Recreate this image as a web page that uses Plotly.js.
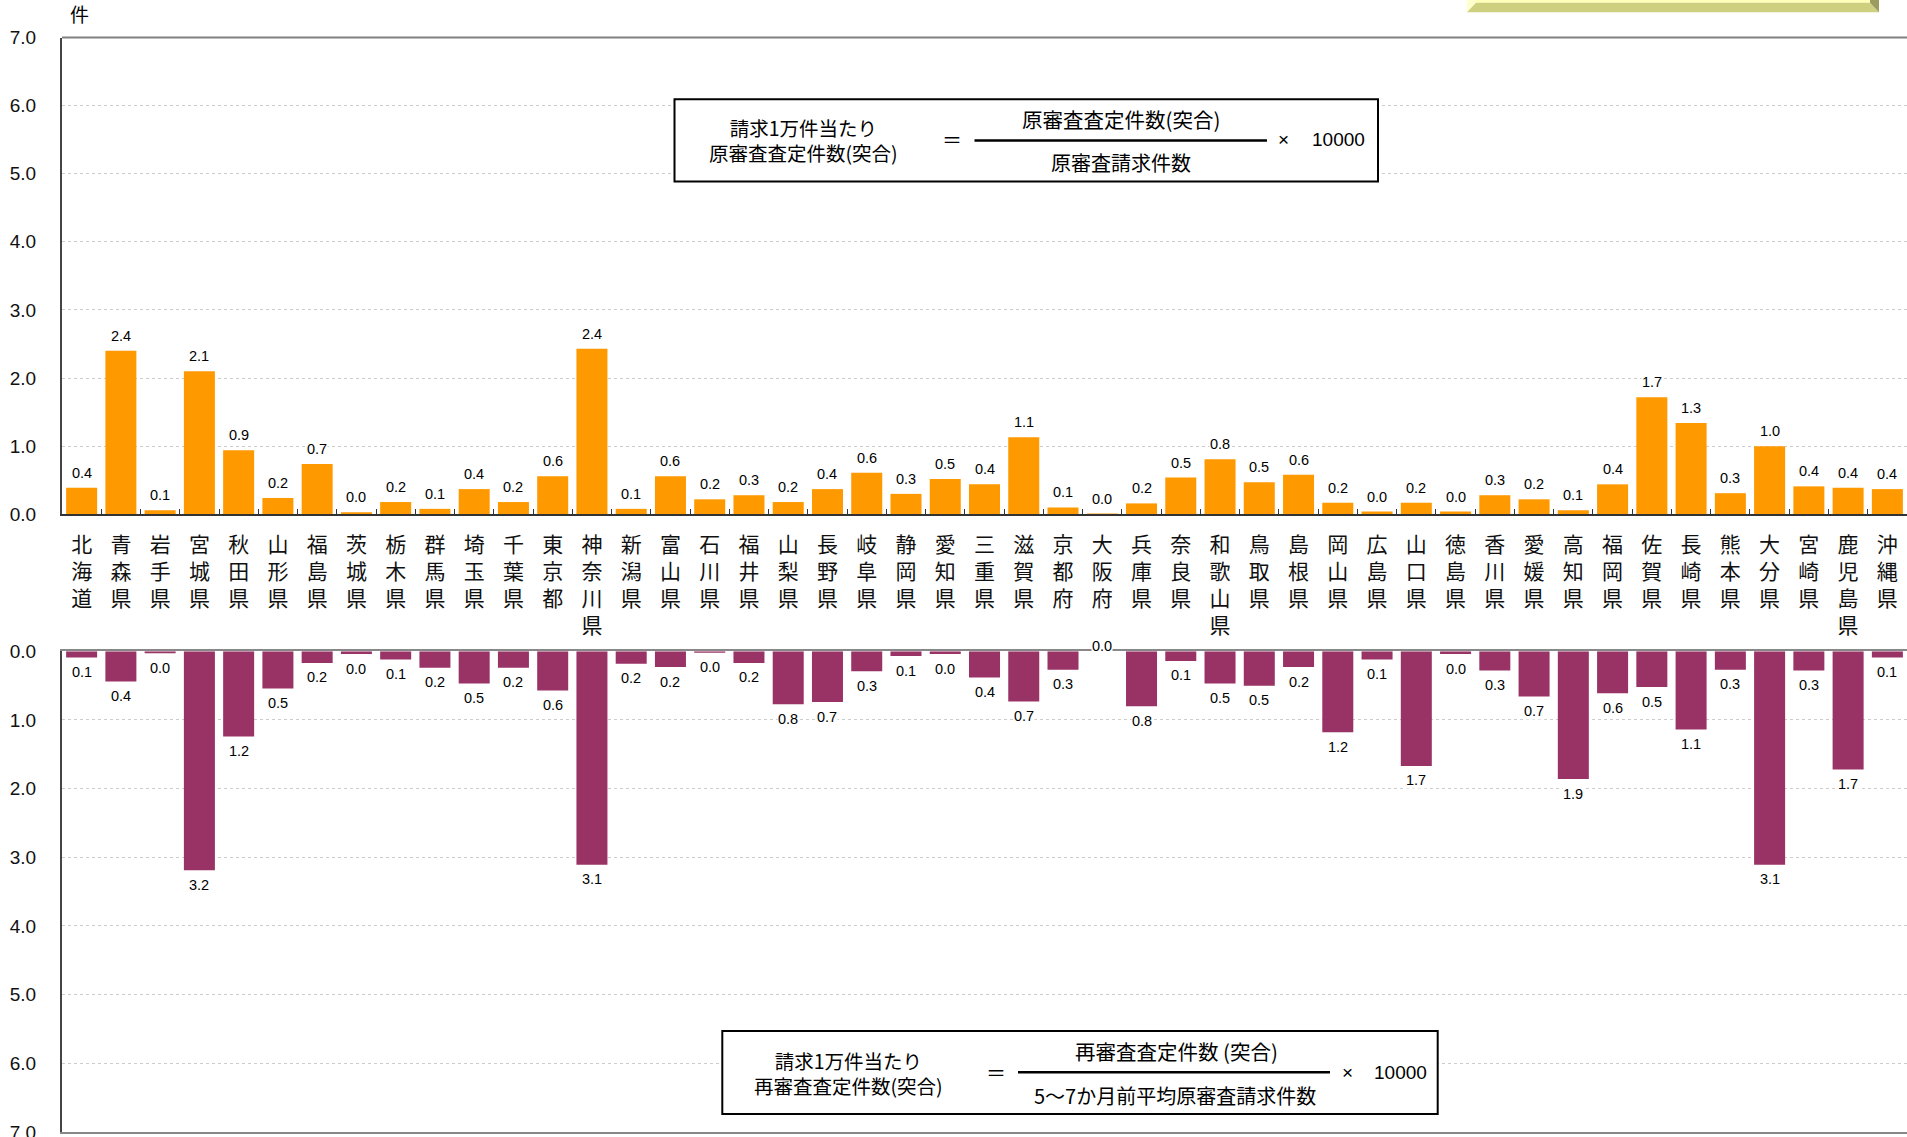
<!DOCTYPE html>
<html>
<head>
<meta charset="utf-8">
<script src="https://cdn.plot.ly/plotly-3.0.1.min.js"></script>
<style>
html,body{margin:0;padding:0;overflow:hidden;background:#fff;}
#chart{width:1907px;height:1137px;}
</style>
</head>
<body>
<div id="chart"></div>
<script>
// ---- data ----
const prefectures = ["北海道","青森県","岩手県","宮城県","秋田県","山形県","福島県","茨城県","栃木県","群馬県",
  "埼玉県","千葉県","東京都","神奈川県","新潟県","富山県","石川県","福井県","山梨県","長野県",
  "岐阜県","静岡県","愛知県","三重県","滋賀県","京都府","大阪府","兵庫県","奈良県","和歌山県",
  "鳥取県","島根県","岡山県","広島県","山口県","徳島県","香川県","愛媛県","高知県","福岡県",
  "佐賀県","長崎県","熊本県","大分県","宮崎県","鹿児島県","沖縄県"];

// 請求1万件当たり原審査査定件数(突合)
const originalPerTenThousand = [0.39,2.40,0.06,2.10,0.94,0.24,0.74,0.03,0.18,0.08,
  0.37,0.18,0.56,2.43,0.08,0.56,0.22,0.28,0.18,0.37,
  0.61,0.30,0.52,0.44,1.13,0.10,0.01,0.16,0.54,0.81,
  0.47,0.58,0.17,0.04,0.17,0.04,0.28,0.22,0.06,0.44,
  1.72,1.34,0.31,1.00,0.41,0.39,0.37];

// 請求1万件当たり再審査査定件数(突合)
const reviewPerTenThousand = [0.09,0.44,0.03,3.19,1.24,0.54,0.17,0.04,0.12,0.24,
  0.47,0.24,0.57,3.11,0.18,0.23,0.02,0.17,0.77,0.74,
  0.29,0.07,0.04,0.38,0.73,0.27,0.00,0.80,0.14,0.47,
  0.50,0.23,1.18,0.12,1.67,0.04,0.28,0.66,1.86,0.61,
  0.52,1.14,0.27,3.11,0.28,1.72,0.09];

const yTickValues = [0,1,2,3,4,5,6,7];
const unitLabel = "件";
const formulaTop = {left:["請求1万件当たり","原審査査定件数(突合)"], num:"原審査査定件数(突合)", den:"原審査請求件数", factor:"10000"};
const formulaBottom = {left:["請求1万件当たり","再審査査定件数(突合)"], num:"再審査査定件数 (突合)", den:"5～7か月前平均原審査請求件数", factor:"10000"};

// ---- layout helpers (pixel -> paper) ----
const W = 1907, H = 1137, ML = 62, MR = 0;
const px = x => (x - ML) / (W - ML - MR);
const py = y => 1 - y / H;

const CJK = '"Noto Sans CJK JP", "Noto Sans", sans-serif';
const LAT = '"Liberation Sans", Arial, sans-serif';

const verticalLabels = prefectures.map(p => p.split('').join('<br>'));

const traces = [
  {type:'bar', x:prefectures, y:originalPerTenThousand, xaxis:'x', yaxis:'y',
   marker:{color:'#FF9900'}, hoverinfo:'skip'},
  {type:'bar', x:prefectures, y:reviewPerTenThousand, xaxis:'x2', yaxis:'y2',
   marker:{color:'#993366'}, hoverinfo:'skip'}
];

const annotations = [];
const labelFont = {family:LAT, size:14.5, color:'#000'};
prefectures.forEach((p,i)=>{
  const v = originalPerTenThousand[i];
  annotations.push({x:p, y:v, xref:'x', yref:'y', text:v.toFixed(1), showarrow:false,
    xanchor:'center', yanchor:'middle', yshift:15, bgcolor:'#ffffff', borderpad:0, font:labelFont});
  const w = reviewPerTenThousand[i];
  annotations.push({x:p, y:w, xref:'x2', yref:'y2', text:w.toFixed(1), showarrow:false,
    xanchor:'center', yanchor:'middle', yshift:(w === 0 ? 5 : -14.5), bgcolor:'#ffffff', borderpad:0, font:labelFont});
});

function txt(text, x, y, size, family){
  annotations.push({xref:'paper', yref:'paper', x:px(x), y:py(y), text:text, showarrow:false,
    xanchor:'center', yanchor:'middle', font:{family:family||CJK, size:size, color:'#000'}});
}
txt(unitLabel, 79, 14, 19);

// top formula
txt(formulaTop.left.join('<br>'), 803, 140.2, 19.5);
txt("＝", 952, 140, 20);
txt(formulaTop.num, 1121, 119, 20.5);
txt(formulaTop.den, 1121, 162.5, 20);
txt("×", 1283.5, 140, 19, LAT);
txt(formulaTop.factor, 1338.8, 140, 19, LAT);
// bottom formula
txt(formulaBottom.left.join('<br>'), 848.7, 1073.4, 19.5);
txt("＝", 996, 1072, 20);
txt(formulaBottom.num, 1176, 1051, 20.5);
txt(formulaBottom.den, 1174.5, 1095.5, 20);
txt("×", 1347.6, 1072.7, 19, LAT);
txt(formulaBottom.factor, 1400.8, 1072.7, 19, LAT);

const shapes = [
  {type:'line', xref:'paper', yref:'paper', x0:0, x1:1, y0:py(37.5), y1:py(37.5), line:{color:'#808080', width:2}},
  {type:'rect', xref:'paper', yref:'paper', x0:px(674.5), x1:px(1378), y0:py(181.4), y1:py(99.3), line:{color:'#000', width:2}, fillcolor:'#fff'},
  {type:'line', xref:'paper', yref:'paper', x0:px(974.5), x1:px(1267), y0:py(140.4), y1:py(140.4), line:{color:'#000', width:2.5}},
  {type:'rect', xref:'paper', yref:'paper', x0:px(722.3), x1:px(1437.7), y0:py(1114), y1:py(1031), line:{color:'#000', width:2}, fillcolor:'#fff'},
  {type:'line', xref:'paper', yref:'paper', x0:px(1018), x1:px(1330), y0:py(1072.3), y1:py(1072.3), line:{color:'#000', width:2.5}},
];
function poly(pts, color){
  const d = pts.map((p,i)=>(i?'L':'M')+px(p[0])+','+py(p[1])).join(' ')+' Z';
  shapes.push({type:'path', xref:'paper', yref:'paper', path:d, fillcolor:color, line:{width:0}});
}
poly([[1476,0],[1870,0],[1870,2.7],[1476,2.7]], '#ffffb8');
poly([[1467,0],[1476,0],[1476,2.7],[1467,12.3]], '#ffffcc');
poly([[1467,12.3],[1879,12.3],[1870,2.7],[1476,2.7]], '#cfcf80');
poly([[1870,0],[1879,0],[1879,12.3],[1870,2.7]], '#9c9c60');

const yTickFont = {family:LAT, size:19, color:'#111'};
const layout = {
  width: W, height: H,
  margin:{l:ML, r:MR, t:0, b:0, pad:0},
  paper_bgcolor:'#fff', plot_bgcolor:'#fff',
  showlegend:false, bargap:0.21,
  font:{family:LAT, color:'#111'},
  xaxis:{anchor:'y', type:'category', tickmode:'array', tickvals:prefectures, ticktext:verticalLabels,
    showline:true, linecolor:'#333', linewidth:2, ticks:'inside', tickson:'boundaries', ticklen:5,
    tickcolor:'#333', tickwidth:1, showgrid:false, zeroline:false, tickangle:0,
    tickfont:{family:CJK, size:21, color:'#111'}, ticklabelstandoff:10, fixedrange:true},
  yaxis:{domain:[py(514.3), py(37.5)], range:[0,7], tickvals:yTickValues, tickformat:'.1f',
    showline:true, linecolor:'#444', linewidth:2, ticks:'', showgrid:true, gridcolor:'#cccccc',
    griddash:'dot', gridwidth:1, zeroline:false, tickfont:yTickFont, ticklabeloverflow:'allow',
    ticklabelstandoff:20, fixedrange:true},
  xaxis2:{anchor:'y2', type:'category', side:'top', showticklabels:false, showline:true, mirror:true,
    linecolor:'#888', linewidth:2, ticks:'', showgrid:false, zeroline:false, fixedrange:true},
  yaxis2:{domain:[py(1132), py(651.3)], range:[7,0], tickvals:yTickValues, tickformat:'.1f',
    showline:true, linecolor:'#444', linewidth:2, ticks:'', showgrid:true, gridcolor:'#cccccc',
    griddash:'dot', gridwidth:1, zeroline:false, tickfont:yTickFont, ticklabeloverflow:'allow',
    ticklabelstandoff:20, fixedrange:true},
  annotations: annotations,
  shapes: shapes
};

Plotly.newPlot('chart', traces, layout, {staticPlot:true, displayModeBar:false});
</script>
</body>
</html>
